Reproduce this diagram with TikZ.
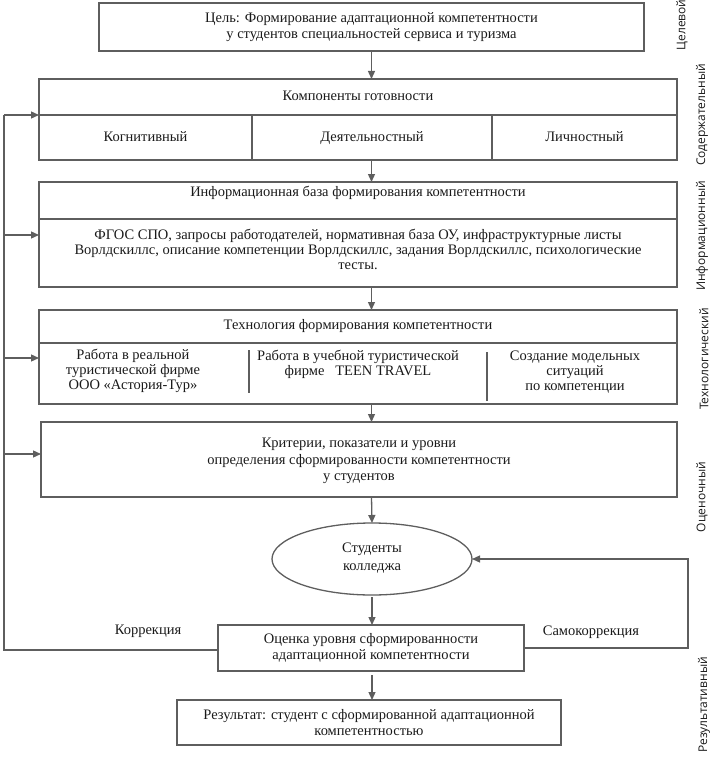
\documentclass[tikz,border=0pt]{standalone}
\usepackage{fontspec}
\setmainfont{Liberation Serif}
\newfontfamily\lblfont{Open Sans}
\usetikzlibrary{arrows.meta,shapes.geometric,calc}
\definecolor{linec}{HTML}{5E5E5E}
\definecolor{textc}{HTML}{1A1A1A}
\tikzset{
  box/.style={draw=linec, line width=1.3pt, inner sep=0pt, outer sep=0pt, text=textc, align=center, font=\fontsize{14.5}{16}\selectfont},
  cell/.style={box, text height=10pt, text depth=3pt},
  txt/.style={inner sep=0pt, text=textc, align=center, font=\fontsize{14.5}{15}\selectfont},
  lbl/.style={inner sep=0pt, text=textc, rotate=90, font=\lblfont\fontsize{12}{14}\selectfont},
  arr/.style={draw=linec, line width=1.3pt, -{Triangle[length=8pt,width=7pt]}},
  ln/.style={draw=linec, line width=1.3pt}
}
\begin{document}
\begin{tikzpicture}[x=1pt,y=-1pt]
\useasboundingbox (0,0) rectangle (714,757);
% goal
\node[box, minimum width=545pt, minimum height=48pt] (goal) at (371.5,27) {Цель: Формирование адаптационной компетентности\\у студентов специальностей сервиса и туризма};
% components
\node[cell, minimum width=638pt, minimum height=36pt] (comp) at (358,97) {Компоненты готовности};
\node[cell, minimum width=213pt, minimum height=45pt] (cog) at (145.5,137.5) {Когнитивный};
\node[cell, minimum width=240pt, minimum height=45pt] (act) at (372,137.5) {Деятельностный};
\node[cell, minimum width=185pt, minimum height=45pt] (pers) at (584.5,137.5) {Личностный};
% info
\node[box, minimum width=638pt, minimum height=37pt] (info) at (358,200.5) {};
\node[txt] (infot) at (358,193) {Информационная база формирования компетентности};
\node[box, minimum width=638pt, minimum height=68pt] (infob) at (358,253) {};
\node[txt] (infobt) at (358,249) {ФГОС СПО, запросы работодателей, нормативная база ОУ, инфраструктурные листы\\Ворлдскиллс, описание компетенции Ворлдскиллс, задания Ворлдскиллс, психологические\\тесты.};
% technology
\node[box, minimum width=638pt, minimum height=33pt] (tech) at (358,326.5) {};
\node[txt] (techt) at (358,326) {Технология формирования компетентности};
\node[box, minimum width=638pt, minimum height=61pt] (techb) at (358,373.5) {};
\node[txt] (t1) at (133,371) {Работа в реальной\\туристической фирме\\ ООО «Астория-Тур»};
\node[txt, anchor=north] (t2) at (358,350) {Работа в учебной туристической\\фирме \ \ TEEN TRAVEL};
\node[txt] (t3) at (575,372) {Создание модельных\\ситуаций\\по компетенции};
\coordinate (d1a) at (249,350); \coordinate (d1b) at (249,393);
\coordinate (d2a) at (487,352); \coordinate (d2b) at (487,401);
\draw[ln] (d1a) -- (d1b);
\draw[ln] (d2a) -- (d2b);
% criteria
\node[box, minimum width=636pt, minimum height=75pt] (crit) at (359,459.5) {};
\node[txt, font=\fontsize{14.5}{16.5}\selectfont] (critt) at (359,461) {Критерии, показатели и уровни\\определения сформированности компетентности\\у студентов};
% ellipse
\node[box, ellipse, minimum width=200pt, minimum height=72pt] (ell) at (372,559) {};
\node[txt, font=\fontsize{14.5}{18}\selectfont] (ellt) at (372,558) {Студенты\\колледжа};
% evaluation
\node[box, minimum width=306pt, minimum height=46pt] (eval) at (371,648) {Оценка уровня сформированности\\адаптационной компетентности};
% result
\node[box, minimum width=384pt, minimum height=45pt] (res) at (369,722.5) {Результат: студент с сформированной адаптационной\\компетентностью};
% labels
\node[txt] (kor) at (148,631) {Коррекция};
\node[txt] (skor) at (591,632) {Самокоррекция};
\node[lbl] (L1) at (682,25) {Целевой};
\node[lbl] (L2) at (702,115) {Содержательный};
\node[lbl] (L3) at (702,236) {Информационный};
\node[lbl] (L4) at (704,359) {Технологический};
\node[lbl] (L5) at (702,497) {Оценочный};
\node[lbl] (L6) at (704,705) {Результативный};
% main arrows
\draw[arr] (goal.south) -- (goal.south |- comp.north);
\draw[arr] (goal.south |- act.south) -- (goal.south |- info.north);
\draw[arr] (goal.south |- infob.south) -- (goal.south |- tech.north);
\draw[arr] (goal.south |- techb.south) -- (goal.south |- crit.north);
\draw[arr] (goal.south |- crit.south) -- (ell.north);
\draw[arr] ([yshift=-2pt]ell.south) -- (ell.south |- eval.north);
\draw[arr, shorten <=4pt] (ell.south |- eval.south) -- (ell.south |- res.north);
% feedback left
\coordinate (lt) at (4,115);
\coordinate (b2) at (4,235);
\coordinate (b3) at (4,358);
\coordinate (b4) at (4,454);
\coordinate (lb) at (4,650);
\draw[ln] (eval.west |- lb) -- (lb) -- (lt);
\draw[arr] (lt) -- (comp.south west);
\draw[arr] (b2) -- (b2 -| infob.west);
\draw[arr] (b3) -- (b3 -| techb.west);
\draw[arr] (b4) -- (b4 -| crit.west);
% feedback right
\coordinate (rb) at (688,648);
\draw[arr] (eval.east |- rb) -- (rb) |- (ell.east);
\end{tikzpicture}
\end{document}
